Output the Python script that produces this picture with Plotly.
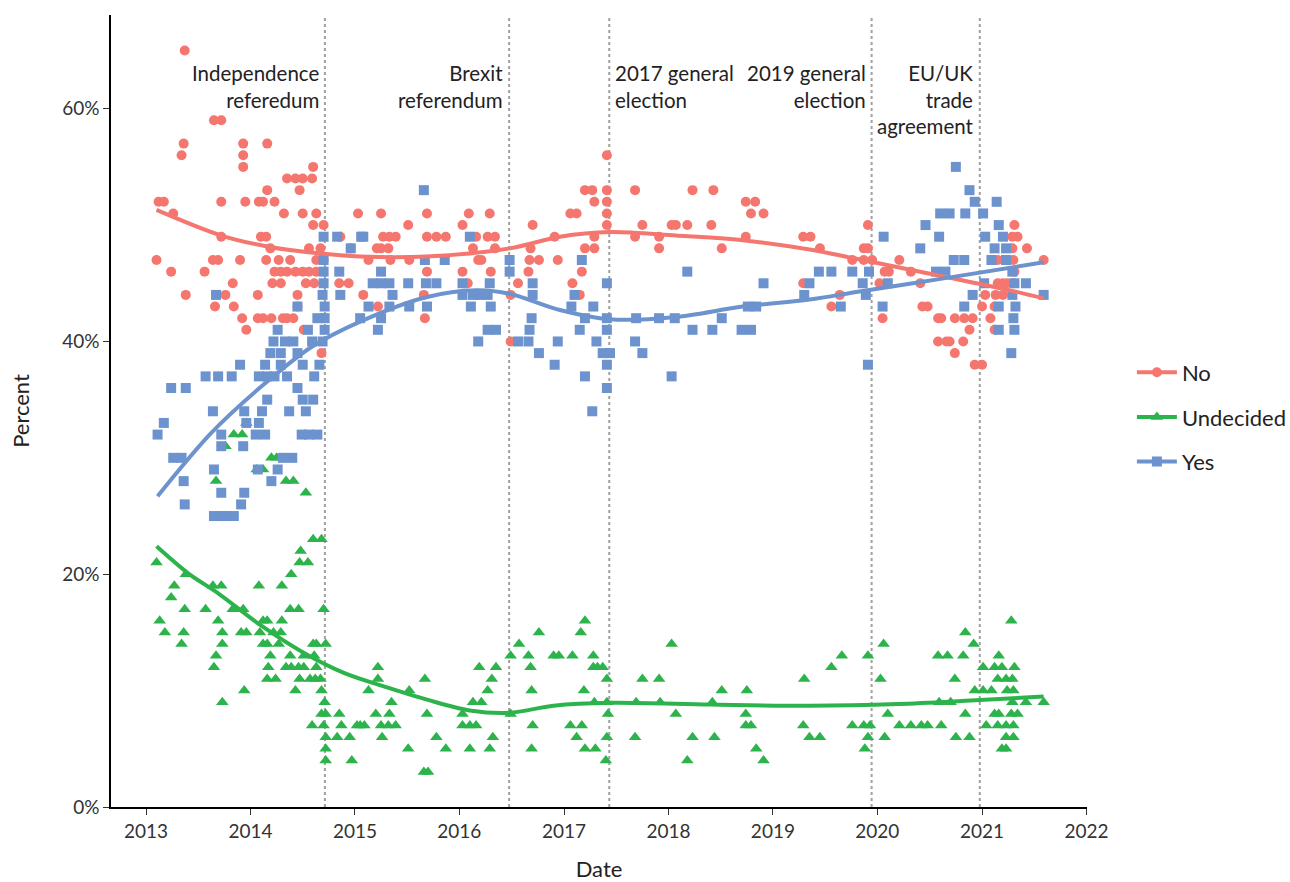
import datetime as dt
import plotly.graph_objects as go

# ---------------- data (decimal year, percent) ----------------
no_polls = [
    (2013.10,47),(2013.12,52),(2013.17,52),(2013.26,51),(2013.24,46),(2013.37,65),(2013.36,57),(2013.34,56),(2013.38,44),
    (2013.56,46),(2013.64,47),(2013.69,47),(2013.65,59),(2013.72,59),(2013.66,43),(2013.72,52),(2013.72,49),(2013.76,44),
    (2013.83,45),(2013.84,43),(2013.90,47),(2013.93,57),(2013.93,56),(2013.93,55),(2013.95,52),(2013.92,42),(2013.96,41),
    (2014.07,44),(2014.07,42),(2014.08,52),(2014.12,52),(2014.12,42),(2014.10,49),(2014.15,49),(2014.15,47),(2014.16,57),(2014.16,53),
    (2014.19,48),(2014.20,42),(2014.21,45),(2014.23,52),(2014.23,46),(2014.27,47),(2014.29,46),(2014.29,45),(2014.31,42),(2014.32,51),
    (2014.35,54),(2014.35,46),(2014.35,42),(2014.38,47),(2014.41,42),(2014.43,54),(2014.43,46),(2014.45,44),(2014.45,43),(2014.47,53),
    (2014.50,46),(2014.50,54),(2014.50,51),(2014.51,41),(2014.53,45),(2014.56,48),(2014.56,46),(2014.59,54),(2014.60,55),(2014.60,50),
    (2014.61,45),(2014.63,51),(2014.63,47),(2014.63,46),(2014.67,48),(2014.68,39),(2014.70,50),(2014.70,47),(2014.70,42),
    (2014.85,45),(2014.86,49),(2014.94,45),(2014.96,48),(2015.03,51),
    (2015.08,44),(2015.13,47),(2015.21,48),(2015.22,43),(2015.25,51),(2015.25,48),(2015.27,49),(2015.32,48),(2015.33,49),(2015.34,47),(2015.39,49),
    (2015.51,50),(2015.52,47),(2015.66,44),(2015.67,42),(2015.69,51),(2015.69,49),(2015.69,46),(2015.78,49),(2015.87,49),
    (2016.03,50),(2016.03,46),(2016.08,45),(2016.09,51),(2016.13,48),(2016.16,49),(2016.18,47),(2016.21,47),(2016.27,49),(2016.29,51),(2016.30,46),(2016.34,49),(2016.34,48),
    (2016.49,44),(2016.49,40),(2016.56,45),(2016.66,46),(2016.67,47),(2016.68,48),(2016.70,50),(2016.76,47),(2016.91,49),(2016.94,47),
    (2017.06,51),(2017.08,45),(2017.12,51),(2017.15,44),(2017.17,46),(2017.20,53),(2017.20,48),(2017.27,53),(2017.29,52),(2017.29,49),(2017.29,48),
    (2017.41,56),(2017.41,53),(2017.41,52),(2017.41,51),(2017.41,50),
    (2017.68,53),(2017.68,49),(2017.75,50),(2017.91,48),(2017.91,49),(2018.03,50),(2018.07,50),(2018.18,50),(2018.23,53),(2018.41,50),(2018.43,53),(2018.51,48),
    (2018.74,52),(2018.74,49),(2018.79,51),(2018.83,52),(2018.91,51),(2019.29,49),(2019.29,45),(2019.36,49),(2019.45,48),(2019.56,43),(2019.64,44),(2019.76,47),
    (2019.87,48),(2019.87,47),(2019.91,50),(2019.91,48),(2019.95,47),(2020.02,45),(2020.05,42),(2020.07,46),(2020.11,46),(2020.21,47),(2020.32,46),(2020.41,45),
    (2020.43,43),(2020.48,43),(2020.58,42),(2020.58,40),(2020.61,42),(2020.66,40),(2020.69,40),(2020.74,42),(2020.74,39),(2020.82,40),(2020.83,42),(2020.88,41),
    (2020.91,42),(2020.93,38),(2021.00,43),(2021.00,38),(2021.03,44),(2021.08,42),(2021.12,43),(2021.12,41),(2021.13,44),(2021.15,47),(2021.15,45),
    (2021.20,45),(2021.20,44),(2021.24,45),(2021.29,49),(2021.29,48),(2021.30,47),(2021.30,45),(2021.31,46),(2021.31,50),(2021.34,49),(2021.43,48),(2021.59,47),
]

yes_polls = [
    (2013.11,32),(2013.17,33),(2013.24,36),(2013.26,30),(2013.34,30),(2013.36,28),(2013.37,26),(2013.38,36),
    (2013.57,37),(2013.64,34),(2013.65,29),(2013.65,25),(2013.67,44),(2013.69,37),(2013.71,25),(2013.72,32),(2013.72,31),(2013.72,27),
    (2013.77,25),(2013.82,37),(2013.84,25),(2013.90,38),(2013.91,26),(2013.93,31),(2013.94,34),(2013.94,27),(2013.96,33),
    (2014.05,32),(2014.07,29),(2014.08,37),(2014.08,33),(2014.11,34),(2014.14,32),(2014.14,38),(2014.16,37),(2014.16,35),
    (2014.19,39),(2014.20,28),(2014.22,40),(2014.23,37),(2014.26,41),(2014.26,29),(2014.29,39),(2014.29,38),(2014.31,30),
    (2014.33,40),(2014.35,37),(2014.37,34),(2014.40,30),(2014.41,40),(2014.45,43),(2014.45,39),(2014.45,36),
    (2014.49,32),(2014.50,38),(2014.50,35),(2014.53,34),(2014.55,41),(2014.56,32),(2014.59,40),(2014.60,35),(2014.61,37),
    (2014.64,42),(2014.64,32),(2014.66,38),(2014.69,44),(2014.69,40),(2014.70,49),(2014.70,47),(2014.70,46),(2014.70,45),
    (2014.71,43),(2014.71,42),(2014.71,41),(2014.83,49),(2014.85,46),(2014.86,44),(2014.96,48),(2015.06,49),
    (2015.05,42),(2015.08,49),(2015.13,43),(2015.17,45),(2015.22,41),(2015.25,46),(2015.25,45),(2015.25,42),(2015.33,45),(2015.33,43),(2015.36,44),
    (2015.51,45),(2015.52,43),(2015.66,53),(2015.67,47),(2015.68,45),(2015.69,43),(2015.78,45),(2015.86,47),
    (2016.03,45),(2016.03,44),(2016.10,49),(2016.11,43),(2016.13,44),(2016.18,40),(2016.19,44),(2016.27,44),(2016.27,41),(2016.29,45),(2016.30,43),(2016.35,41),
    (2016.48,47),(2016.48,46),(2016.56,40),(2016.66,40),(2016.67,41),(2016.69,42),(2016.70,45),(2016.70,44),(2016.76,39),(2016.91,38),(2016.94,40),
    (2017.07,43),(2017.10,44),(2017.15,41),(2017.17,47),(2017.20,42),(2017.20,37),(2017.27,34),(2017.28,43),(2017.31,40),(2017.37,39),
    (2017.41,45),(2017.41,42),(2017.41,41),(2017.41,38),(2017.41,36),(2017.44,39),
    (2017.68,40),(2017.69,42),(2017.75,39),(2017.91,42),(2018.03,37),(2018.06,42),(2018.18,46),(2018.23,41),(2018.42,41),(2018.51,42),
    (2018.70,41),(2018.76,43),(2018.79,41),(2018.84,43),(2018.91,45),(2019.30,44),(2019.35,45),(2019.44,46),(2019.56,46),(2019.65,43),(2019.76,46),
    (2019.86,45),(2019.89,44),(2019.91,38),(2019.92,46),(2020.05,43),(2020.06,49),(2020.10,45),
    (2020.41,48),(2020.46,50),(2020.56,46),(2020.59,49),(2020.60,51),(2020.65,46),(2020.69,51),(2020.73,47),(2020.75,55),
    (2020.83,47),(2020.83,43),(2020.84,51),(2020.88,53),(2020.91,44),(2020.93,52),(2021.01,51),(2021.02,45),(2021.03,49),
    (2021.09,47),(2021.12,48),(2021.14,52),(2021.16,50),(2021.16,41),(2021.16,43),(2021.20,49),(2021.23,48),(2021.23,47),
    (2021.28,39),(2021.29,46),(2021.29,44),(2021.30,42),(2021.31,45),(2021.31,41),(2021.32,43),(2021.42,45),(2021.59,44),
]

undecided_polls = [
    (2013.10,21),(2013.13,16),(2013.18,15),(2013.24,18),(2013.27,19),(2013.34,14),(2013.36,15),(2013.37,17),(2013.38,20),
    (2013.57,17),(2013.64,19),(2013.65,12),(2013.67,13),(2013.67,28),(2013.69,16),(2013.72,19),(2013.73,15),(2013.73,14),(2013.73,9),
    (2013.76,31),(2013.83,17),(2013.84,32),(2013.91,15),(2013.92,32),(2013.93,17),(2013.94,10),(2013.96,33),(2013.96,15),
    (2014.06,29),(2014.08,19),(2014.09,15),(2014.12,16),(2014.12,14),(2014.12,29),(2014.16,16),(2014.16,14),(2014.16,11),(2014.17,12),
    (2014.19,13),(2014.20,30),(2014.22,15),(2014.24,11),(2014.25,30),(2014.27,14),(2014.29,15),(2014.30,16),(2014.30,19),
    (2014.34,28),(2014.34,12),(2014.38,17),(2014.38,13),(2014.39,20),(2014.39,12),(2014.41,28),(2014.43,10),(2014.46,17),(2014.46,12),
    (2014.47,21),(2014.47,11),(2014.48,22),(2014.51,12),(2014.51,13),(2014.53,27),(2014.55,21),(2014.57,11),(2014.59,7),
    (2014.60,23),(2014.60,14),(2014.61,13),(2014.62,11),(2014.63,14),(2014.63,12),(2014.67,11),(2014.68,23),(2014.68,10),(2014.68,8),
    (2014.70,17),(2014.70,7),(2014.71,9),(2014.72,14),(2014.72,8),(2014.72,6),(2014.72,5),(2014.72,4),
    (2014.83,6),(2014.85,8),(2014.87,7),(2014.95,6),(2014.97,4),(2015.02,7),
    (2015.05,7),(2015.09,7),(2015.13,10),(2015.20,8),(2015.22,12),(2015.22,11),(2015.25,7),(2015.26,6),(2015.32,7),(2015.33,8),(2015.35,9),(2015.39,7),
    (2015.51,5),(2015.52,10),(2015.66,3),(2015.67,11),(2015.69,8),(2015.70,3),(2015.78,6),(2015.87,5),
    (2016.03,8),(2016.03,7),(2016.10,7),(2016.10,5),(2016.13,9),(2016.16,7),(2016.19,12),(2016.21,9),(2016.27,10),(2016.29,5),(2016.31,11),(2016.32,6),(2016.35,12),
    (2016.49,13),(2016.49,8),(2016.57,14),(2016.66,13),(2016.68,12),(2016.69,10),(2016.69,5),(2016.70,7),(2016.76,15),(2016.90,13),(2016.95,13),
    (2017.06,7),(2017.08,13),(2017.12,6),(2017.16,15),(2017.17,7),(2017.19,10),(2017.20,16),(2017.20,5),(2017.28,13),(2017.28,12),(2017.29,9),(2017.30,5),(2017.32,12),(2017.37,12),
    (2017.41,11),(2017.41,9),(2017.42,8),(2017.41,6),(2017.40,4),
    (2017.68,6),(2017.69,9),(2017.75,11),(2017.91,11),(2017.92,9),(2018.03,14),(2018.07,8),(2018.18,4),(2018.23,6),(2018.42,9),(2018.44,6),(2018.51,10),
    (2018.74,8),(2018.75,10),(2018.74,7),(2018.79,7),(2018.84,5),(2018.91,4),(2019.29,7),(2019.30,11),(2019.35,6),(2019.45,6),(2019.56,12),(2019.66,13),(2019.76,7),
    (2019.87,7),(2019.88,5),(2019.91,13),(2019.91,6),(2019.93,7),(2020.03,11),(2020.06,14),(2020.07,6),(2020.10,8),(2020.21,7),(2020.32,7),(2020.42,7),(2020.48,7),
    (2020.58,13),(2020.59,9),(2020.61,7),(2020.67,13),(2020.70,9),(2020.74,11),(2020.75,6),(2020.82,13),(2020.84,15),(2020.84,8),(2020.88,6),(2020.92,14),(2020.93,10),
    (2021.01,12),(2021.01,10),(2021.04,7),(2021.09,10),(2021.12,12),(2021.12,8),(2021.15,11),(2021.15,7),(2021.16,13),(2021.16,8),(2021.19,12),(2021.19,5),
    (2021.23,11),(2021.23,7),(2021.23,6),(2021.23,5),(2021.24,10),(2021.28,16),(2021.28,8),(2021.29,11),(2021.29,9),(2021.30,10),(2021.30,7),(2021.30,6),(2021.31,12),(2021.34,8),(2021.42,9),(2021.59,9),
]

# smoothed trend lines
no_smooth_year = [2013.10, 2013.72, 2014.20, 2014.63, 2015.05, 2015.68, 2016.48, 2016.96, 2017.44, 2018.07, 2018.71, 2019.35, 2019.80, 2020.62, 2021.26, 2021.59]
no_smooth_pct = [51.3, 49.1, 48.1, 47.6, 47.3, 47.3, 48.0, 49.0, 49.4, 49.1, 48.7, 47.9, 47.1, 45.6, 44.4, 43.7]
yes_smooth_year = [2013.11, 2013.62, 2014.10, 2014.58, 2015.05, 2015.68, 2016.16, 2016.48, 2016.96, 2017.44, 2018.07, 2018.71, 2019.35, 2019.83, 2020.62, 2021.59]
yes_smooth_pct = [26.7, 32.1, 36.1, 39.5, 41.7, 43.8, 44.4, 44.1, 42.7, 41.9, 42.1, 43.0, 43.6, 44.3, 45.4, 46.8]
und_smooth_year = [2013.10, 2013.40, 2013.70, 2014.10, 2014.50, 2014.90, 2015.30, 2015.70, 2016.10, 2016.48, 2016.90, 2017.44, 2018.40, 2019.35, 2020.20, 2020.80, 2021.59]
und_smooth_pct = [22.4, 20.1, 18.3, 15.6, 13.3, 11.5, 10.3, 9.2, 8.3, 8.1, 8.7, 8.95, 8.8, 8.7, 8.85, 9.1, 9.5]

event_dates = ["2014-09-18", "2016-06-23", "2017-06-08", "2019-12-12", "2020-12-24"]
event_labels = ["Independence<br>referedum", "Brexit<br>referendum", "2017 general<br>election",
                "2019 general<br>election", "EU/UK<br>trade<br>agreement"]
event_side = ["left", "left", "right", "left", "left"]

series_names = ["No", "Undecided", "Yes"]
series_colors = ["#F5766E", "#2DB34B", "#6D93CE"]
series_symbols = ["circle", "triangle-up", "square"]
y_ticks = [0, 20, 40, 60]
y_tick_labels = ["0%", "20%", "40%", "60%"]
x_tick_years = list(range(2013, 2023))


def to_date(y):
    yr = int(y)
    a = dt.datetime(yr, 1, 1)
    b = dt.datetime(yr + 1, 1, 1)
    return a + (b - a) * (y - yr)


FONT = "Lato, 'Open Sans', sans-serif"
fig = go.Figure()

polls = {"No": no_polls, "Undecided": undecided_polls, "Yes": yes_polls}
smooth = {"No": (no_smooth_year, no_smooth_pct),
          "Undecided": (und_smooth_year, und_smooth_pct),
          "Yes": (yes_smooth_year, yes_smooth_pct)}
sizes = {"circle": 10, "triangle-up": 11, "square": 10}

for name, col, sym in zip(series_names, series_colors, series_symbols):
    pts = polls[name]
    fig.add_trace(go.Scatter(
        x=[to_date(p[0]) for p in pts], y=[p[1] for p in pts],
        mode="markers", showlegend=False,
        marker=dict(color=col, symbol=sym, size=sizes[sym], line=dict(width=0)),
    ))

for name, col in zip(series_names, series_colors):
    sx, sy = smooth[name]
    fig.add_trace(go.Scatter(
        x=[to_date(v) for v in sx], y=sy, mode="lines", showlegend=False,
        line=dict(color=col, width=4, shape="spline", smoothing=0.9),
    ))

for i, (name, col, sym) in enumerate(zip(series_names, series_colors, series_symbols)):
    fig.add_trace(go.Scatter(
        x=[None], y=[None], mode="lines+markers", name=name, legendgroup=name,
        marker=dict(color=col, symbol=sym, size=sizes[sym]),
        line=dict(color=col, width=4),
    ))

for d, lab, side in zip(event_dates, event_labels, event_side):
    fig.add_shape(type="line", xref="x", yref="paper", x0=d, x1=d, y0=0, y1=1,
                  line=dict(color="#A0A0A0", width=2, dash="dot"), layer="below")
    fig.add_annotation(
        x=d, y=64.3, xref="x", yref="y", text=lab, showarrow=False,
        xanchor="right" if side == "left" else "left", yanchor="top",
        align="right" if side == "left" else "left",
        xshift=-4 if side == "left" else 4,
        font=dict(family=FONT, size=20.5, color="#222222"),
    )

fig.update_layout(
    width=1290, height=882,
    margin=dict(l=111, r=203, t=15, b=75, autoexpand=False),
    paper_bgcolor="white", plot_bgcolor="white",
    font=dict(family=FONT, size=19, color="#222222"),
    legend=dict(x=1.046, y=0.4924, xanchor="left", yanchor="middle",
                font=dict(family=FONT, size=22, color="#222222"),
                tracegroupgap=13, itemwidth=40, bgcolor="rgba(0,0,0,0)"),
    xaxis=dict(
        type="date", range=[to_date(2012.665), to_date(2022.005)],
        tickvals=[dt.datetime(y, 1, 1) for y in x_tick_years],
        ticktext=[str(y) for y in x_tick_years], automargin=False,
        showgrid=False, zeroline=False, showline=True, linecolor="black", linewidth=1.5,
        ticks="outside", ticklen=6, tickwidth=1.3, tickcolor="#333333",
        tickfont=dict(family=FONT, size=19, color="#333333"),
        title=dict(text="Date", font=dict(family=FONT, size=22, color="#222222"), standoff=24),
    ),
    yaxis=dict(
        range=[0, 68.05], tickvals=y_ticks, ticktext=y_tick_labels, automargin=False,
        showgrid=False, zeroline=False, showline=True, linecolor="black", linewidth=1.5,
        ticks="outside", ticklen=6, tickwidth=1.3, tickcolor="#333333",
        tickfont=dict(family=FONT, size=19, color="#333333"),
        title=dict(text="Percent", font=dict(family=FONT, size=22, color="#222222"), standoff=26),
    ),
)

fig.write_html("out.html")
